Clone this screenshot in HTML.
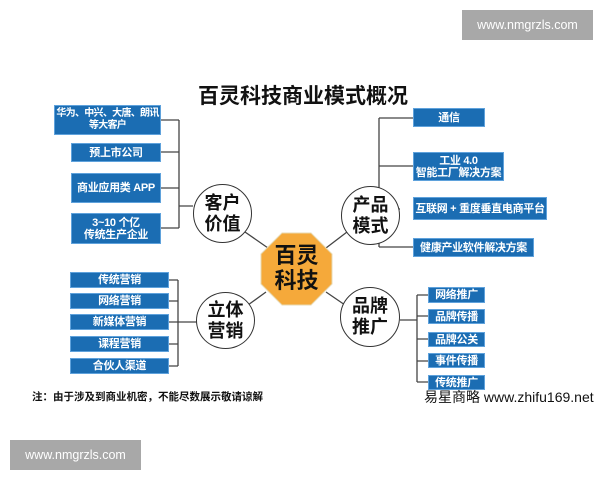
<!DOCTYPE html>
<html><head><meta charset="utf-8"><style>
body{margin:0;width:600px;height:480px;background:#fff;position:relative;overflow:hidden;font-family:"Liberation Sans","Noto Sans CJK SC",sans-serif}
.b{position:absolute;background:#1b6db3;border:1px solid #5fa2dc;box-sizing:border-box;color:#fff;font-weight:bold;font-size:11px;line-height:12px;display:flex;align-items:center;justify-content:center;text-align:center;letter-spacing:-0.3px;white-space:nowrap}
.c{position:absolute;border:1.3px solid #333;border-radius:50%;background:#fff;box-sizing:border-box;font-weight:bold;font-size:18px;line-height:21px;display:flex;align-items:center;justify-content:center;text-align:center;color:#111}
.wm{position:absolute;background:#a8a8a8;color:#fff;font-size:12.5px;display:flex;align-items:center;justify-content:center}
.t{position:absolute;white-space:nowrap;color:#111}
</style></head><body>
<div class="wm" style="left:462px;top:10px;width:131px;height:30px">www.nmgrzls.com</div>
<div class="wm" style="left:10px;top:440px;width:131px;height:30px">www.nmgrzls.com</div>
<div class="t" style="left:198px;top:84px;width:210px;text-align:center;font-size:21px;font-weight:bold;line-height:26px">百灵科技商业模式概况</div>
<svg width="600" height="480" style="position:absolute;left:0;top:0" stroke="#444" stroke-width="1.3" fill="none">
<path d="M161 120H179M161 152H179M161 188H179M161 228H179M179 120V228M179 206H193"/>
<path d="M413 118H379M413 166H379M379 209H400M413 247H379M379 118V247"/>
<path d="M169 280H178M169 301H178M169 322H178M169 344H178M169 366H178M178 280V366M178 322H197"/>
<path d="M428 295H417M428 316H417M428 339H417M428 361H417M428 382H417M417 295V382M417 320H400"/>
<path d="M245 232L268 248M347 232L326 248M248 305L266 292M345 305L326 292"/>
<polygon points="282,233 311,233 332,254 332,284 311,305 282,305 261,284 261,254" fill="#f5a93a" stroke="#e8d9b0" stroke-width="1"/>
</svg>
<div class="t" style="left:261px;top:243px;width:71px;text-align:center;font-size:22px;font-weight:bold;line-height:25px">百灵<br>科技</div>
<div class="c" style="left:193px;top:184px;width:59px;height:59px">客户<br>价值</div>
<div class="c" style="left:341px;top:186px;width:59px;height:59px">产品<br>模式</div>
<div class="c" style="left:196px;top:292px;width:59px;height:57px">立体<br>营销</div>
<div class="c" style="left:340px;top:287px;width:60px;height:60px">品牌<br>推广</div>
<div class="b" style="left:54px;top:105px;width:107px;height:30px;font-size:10px;letter-spacing:-0.7px">华为、中兴、大唐、朗讯<br>等大客户</div>
<div class="b" style="left:71px;top:143px;width:90px;height:19px">预上市公司</div>
<div class="b" style="left:71px;top:173px;width:90px;height:30px">商业应用类 APP</div>
<div class="b" style="left:71px;top:213px;width:90px;height:31px">3~10 个亿<br>传统生产企业</div>
<div class="b" style="left:413px;top:108px;width:72px;height:19px">通信</div>
<div class="b" style="left:413px;top:152px;width:91px;height:29px">工业 4.0<br>智能工厂解决方案</div>
<div class="b" style="left:413px;top:197px;width:134px;height:23px">互联网 + 重度垂直电商平台</div>
<div class="b" style="left:413px;top:238px;width:121px;height:19px">健康产业软件解决方案</div>
<div class="b" style="left:70px;top:272px;width:99px;height:16px">传统营销</div>
<div class="b" style="left:70px;top:293px;width:99px;height:16px">网络营销</div>
<div class="b" style="left:70px;top:314px;width:99px;height:16px">新媒体营销</div>
<div class="b" style="left:70px;top:336px;width:99px;height:16px">课程营销</div>
<div class="b" style="left:70px;top:358px;width:99px;height:16px">合伙人渠道</div>
<div class="b" style="left:428px;top:287px;width:57px;height:16px">网络推广</div>
<div class="b" style="left:428px;top:309px;width:57px;height:15px">品牌传播</div>
<div class="b" style="left:428px;top:332px;width:57px;height:15px">品牌公关</div>
<div class="b" style="left:428px;top:353px;width:57px;height:15px">事件传播</div>
<div class="b" style="left:428px;top:375px;width:57px;height:15px">传统推广</div>
<div class="t" style="left:32px;top:390px;font-size:10.5px;font-weight:bold;line-height:14px">注：由于涉及到商业机密，不能尽数展示敬请谅解</div>
<div class="t" style="left:424px;top:389px;font-size:14px;line-height:16px">易星商略 www.zhifu169.net</div>
</body></html>
